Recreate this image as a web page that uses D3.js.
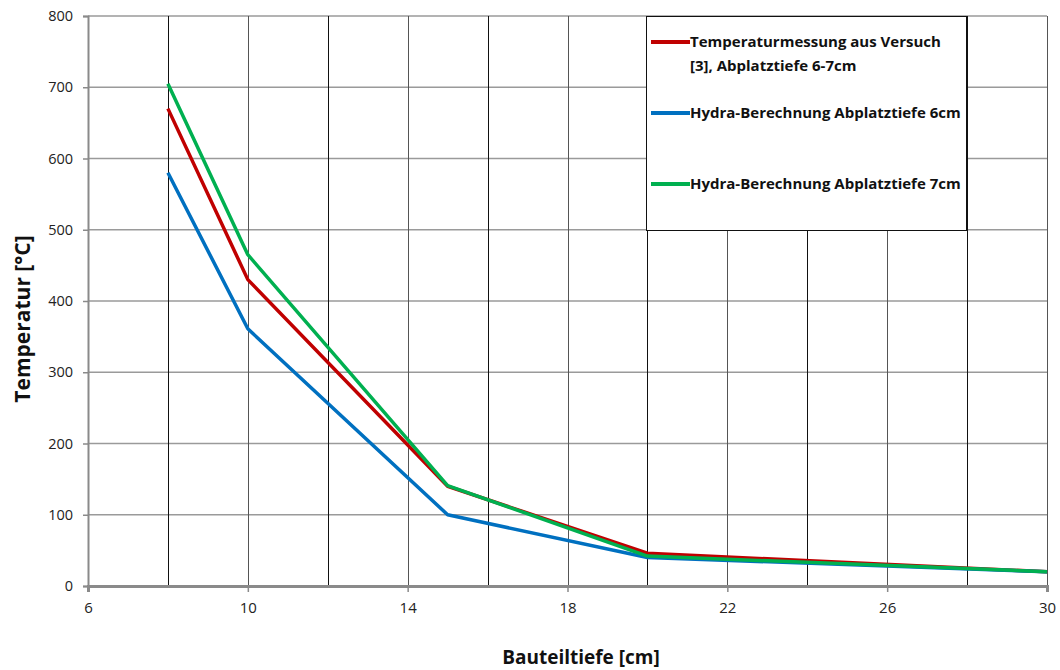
<!DOCTYPE html>
<html>
<head>
<meta charset="utf-8">
<script src="https://cdn.jsdelivr.net/npm/d3@7"></script>
<style>
  body { margin: 0; background: #fff; }
  svg { display: block; font-family: "Open Sans", "DejaVu Sans", sans-serif; }
</style>
</head>
<body>
<div id="chart"></div>
<script>
// data
const depths = [8, 10, 15, 20, 30];
const measured = [670, 430, 140, 46, 20];
const hydra6 = [580, 361, 100, 40, 20];
const hydra7 = [705, 465, 141, 42, 20];

const xTicks = [6, 10, 14, 18, 22, 26, 30];
const xGrid = [8, 10, 12, 14, 16, 18, 20, 22, 24, 26, 28, 30];
const yTicks = [0, 100, 200, 300, 400, 500, 600, 700, 800];

const seriesNames = [
  ['Temperaturmessung aus Versuch', '[3], Abplatztiefe 6-7cm'],
  ['Hydra-Berechnung Abplatztiefe 6cm'],
  ['Hydra-Berechnung Abplatztiefe 7cm']
];
const seriesColors = ['#c00000', '#0070c0', '#00b050'];
const seriesValues = [measured, hydra6, hydra7];

const width = 1060, height = 670;
const margin = { top: 16, right: 13, bottom: 84, left: 88 };

const svg = d3.select('#chart').append('svg')
  .attr('width', width)
  .attr('height', height);

const x = d3.scaleLinear().domain([6, 30]).range([margin.left, width - margin.right]);
const y = d3.scaleLinear().domain([0, 800]).range([height - margin.bottom, margin.top]);

const g = svg.append('g');

// horizontal grid
g.append('g')
  .selectAll('line')
  .data(yTicks.slice(1))
  .join('line')
  .attr('x1', x(6)).attr('x2', x(30))
  .attr('y1', d => y(d)).attr('y2', d => y(d))
  .attr('stroke', '#9a9a9a')
  .attr('stroke-width', 1.5);

// vertical grid
g.append('g')
  .selectAll('line')
  .data(xGrid)
  .join('line')
  .attr('x1', d => Math.round(x(d)) + 0.5).attr('x2', d => Math.round(x(d)) + 0.5)
  .attr('y1', y(800)).attr('y2', y(0))
  .attr('stroke', (d, i) => i % 2 === 0 ? '#111' : '#555')
  .attr('stroke-width', 1);

// y axis
const yAxis = g.append('g')
  .attr('transform', `translate(${x(6)},0)`)
  .call(d3.axisLeft(y).tickValues(yTicks).tickSize(5).tickPadding(10));
yAxis.select('.domain').attr('stroke', '#8a8a8a').attr('stroke-width', 2);
yAxis.selectAll('.tick line').attr('stroke', '#8a8a8a').attr('stroke-width', 1.5);
yAxis.selectAll('.tick text')
  .attr('font-size', 14.5).attr('fill', '#222')
  .attr('font-family', '"Open Sans", sans-serif');

// x axis
const xAxis = g.append('g')
  .attr('transform', `translate(0,${y(0)})`)
  .call(d3.axisBottom(x).tickValues(xTicks).tickSize(6).tickPadding(10));
xAxis.select('.domain').attr('stroke', '#8a8a8a').attr('stroke-width', 3);
xAxis.selectAll('.tick line').attr('stroke', '#8a8a8a').attr('stroke-width', 1.5);
xAxis.selectAll('.tick text')
  .attr('font-size', 15).attr('fill', '#222')
  .attr('font-family', '"Liberation Sans Narrow", "Open Sans", sans-serif');

// lines
const line = d3.line()
  .x((d, i) => x(depths[i]))
  .y(d => y(d));

g.append('g')
  .selectAll('path')
  .data(seriesValues)
  .join('path')
  .attr('d', d => line(d))
  .attr('fill', 'none')
  .attr('stroke', (d, i) => seriesColors[i])
  .attr('stroke-width', 3.5)
  .attr('stroke-linejoin', 'round');

// legend
const legend = svg.append('g').attr('transform', 'translate(646,16)');
legend.append('rect')
  .attr('x', 0.5).attr('y', 0.5)
  .attr('width', 320).attr('height', 214)
  .attr('fill', '#fff')
  .attr('stroke', '#111')
  .attr('stroke-width', 1);

const legendY = [26, 97, 168];
seriesNames.forEach((name, i) => {
  const item = legend.append('g').attr('transform', `translate(0,${legendY[i]})`);
  item.append('line')
    .attr('x1', 5).attr('x2', 44)
    .attr('y1', 0).attr('y2', 0)
    .attr('stroke', seriesColors[i])
    .attr('stroke-width', 4);
  item.selectAll('text')
    .data(name)
    .join('text')
    .attr('x', 44)
    .attr('y', (d, j) => j * 24)
    .attr('dy', '0.35em')
    .attr('font-size', 15)
    .attr('font-weight', 'bold')
    .attr('fill', '#111')
    .text(d => d);
});

// axis titles
svg.append('text')
  .attr('transform', 'translate(23,319) rotate(-90)')
  .attr('text-anchor', 'middle')
  .attr('dy', '0.35em')
  .attr('font-size', 21)
  .attr('font-weight', 'bold')
  .attr('fill', '#111')
  .text('Temperatur [°C]');

svg.append('text')
  .attr('x', 581)
  .attr('y', 657)
  .attr('text-anchor', 'middle')
  .attr('dy', '0.35em')
  .attr('font-size', 19)
  .attr('font-weight', 'bold')
  .attr('fill', '#111')
  .text('Bauteiltiefe [cm]');
</script>
</body>
</html>
